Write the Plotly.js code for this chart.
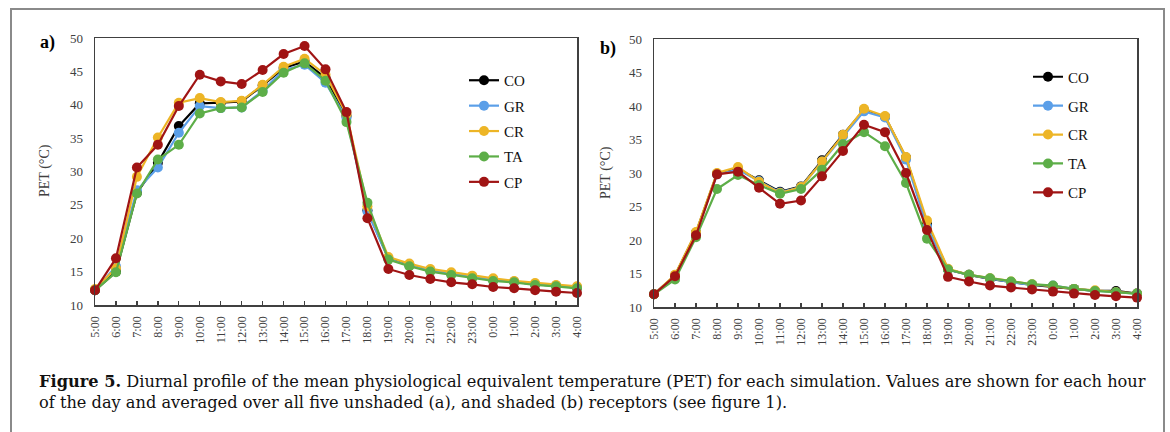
<!DOCTYPE html>
<html>
<head>
<meta charset="utf-8">
<script src="https://cdn.plot.ly/plotly-3.0.1.min.js"></script>
<style>
html,body{margin:0;padding:0;background:#fff;}
#chart{width:1170px;height:432px;}
</style>
</head>
<body>
<div id="chart"></div>
<script>
const hours = ['5:00','6:00','7:00','8:00','9:00','10:00','11:00','12:00','13:00','14:00','15:00','16:00','17:00','18:00','19:00','20:00','21:00','22:00','23:00','0:00','1:00','2:00','3:00','4:00'];
const seriesNames = ['CO','GR','CR','TA','CP'];
const seriesColors = ['#000000','#5B9FE8','#EDB526','#5DAE48','#A01414'];

// Panel a: unshaded receptors
const CO_a = [12.2, 15.0, 26.8, 31.3, 36.8, 40.2, 40.3, 40.5, 42.9, 45.5, 46.5, 44.0, 38.3, 24.2, 17.0, 16.0, 15.2, 14.7, 14.2, 13.8, 13.5, 13.1, 12.9, 12.6];
const GR_a = [12.2, 15.8, 27.2, 30.6, 35.8, 39.8, 39.5, 39.6, 42.1, 45.2, 46.0, 43.3, 38.0, 24.0, 16.9, 15.9, 15.2, 14.7, 14.2, 13.8, 13.5, 13.1, 12.9, 12.6];
const CR_a = [12.4, 15.5, 29.2, 35.1, 40.3, 41.0, 40.4, 40.6, 43.0, 45.7, 46.9, 44.5, 38.6, 24.8, 17.2, 16.2, 15.4, 14.9, 14.4, 14.0, 13.6, 13.3, 13.0, 12.8];
const TA_a = [12.2, 14.9, 26.7, 31.8, 34.0, 38.7, 39.5, 39.6, 41.9, 44.8, 46.2, 43.6, 37.4, 25.3, 16.8, 15.8, 15.0, 14.5, 14.0, 13.6, 13.4, 13.0, 12.8, 12.5];
const CP_a = [12.2, 17.0, 30.6, 34.0, 39.8, 44.5, 43.5, 43.1, 45.2, 47.6, 48.8, 45.3, 38.9, 23.0, 15.4, 14.5, 13.9, 13.4, 13.1, 12.7, 12.5, 12.2, 12.0, 11.8];

// Panel b: shaded receptors
const CO_b = [11.9, 14.7, 21.1, 29.9, 30.6, 28.9, 27.2, 28.0, 31.9, 35.7, 39.4, 38.4, 32.3, 22.4, 15.6, 14.8, 14.2, 13.7, 13.3, 13.0, 12.7, 12.4, 12.4, 12.0];
const GR_b = [11.9, 14.7, 21.0, 29.8, 30.5, 28.8, 27.1, 27.9, 31.7, 35.5, 39.2, 38.3, 32.0, 22.0, 15.6, 14.8, 14.2, 13.7, 13.3, 13.2, 12.7, 12.4, 12.2, 12.0];
const CR_b = [11.9, 14.8, 21.2, 30.0, 30.9, 28.7, 27.0, 27.9, 31.7, 35.7, 39.6, 38.5, 32.4, 22.9, 15.7, 14.8, 14.3, 13.8, 13.4, 13.1, 12.7, 12.5, 12.2, 12.0];
const TA_b = [11.9, 14.1, 20.4, 27.6, 29.7, 28.2, 26.9, 27.6, 30.5, 34.3, 36.1, 34.0, 28.5, 20.2, 15.6, 14.8, 14.3, 13.8, 13.4, 13.2, 12.7, 12.4, 12.2, 12.0];
const CP_b = [11.9, 14.6, 20.7, 29.8, 30.2, 27.8, 25.4, 25.9, 29.5, 33.3, 37.2, 36.1, 30.0, 21.5, 14.5, 13.8, 13.2, 12.9, 12.6, 12.3, 12.0, 11.8, 11.6, 11.4];

const yTickVals = [10,15,20,25,30,35,40,45,50];
const yTitle = 'PET (°C)';
const panelLabels = ['a)','b)'];
const captionLine1 = '<b>Figure 5.</b> Diurnal profile of the mean physiological equivalent temperature (PET) for each simulation. Values are shown for each hour';
const captionLine2 = 'of the day and averaged over all five unshaded (a), and shaded (b) receptors (see figure 1).';

const W = 1170, H = 432;
const px = v => v / W;
const py = v => 1 - v / H;
const SERIF = 'Liberation Serif';
const CAPFONT = 'DejaVu Serif';
const AXC = '#404040';

const dataA = [CO_a, GR_a, CR_a, TA_a, CP_a];
const dataB = [CO_b, GR_b, CR_b, TA_b, CP_b];

const traces = [];
function addPanel(arrs, xa, ya, leg) {
  arrs.forEach((vals, i) => {
    traces.push({
      x: hours, y: vals, xaxis: xa, yaxis: ya,
      type: 'scatter', mode: 'lines+markers',
      name: seriesNames[i], legend: leg, legendgroup: leg + seriesNames[i],
      line: {color: seriesColors[i], width: 2.2},
      marker: {color: seriesColors[i], size: 10},
      cliponaxis: false
    });
  });
}
addPanel(dataA, 'x', 'y', 'legend');
addPanel(dataB, 'x2', 'y2', 'legend2');

const xCommon = {
  type: 'category', range: [0, 23], showline: true, linecolor: AXC, linewidth: 1.5, mirror: true,
  ticks: 'inside', ticklen: 4, tickcolor: AXC, tickwidth: 1.3, tickangle: -90,
  showgrid: false, zeroline: false, fixedrange: true,
  tickfont: {family: SERIF, size: 12, color: AXC}, ticklabelstandoff: 5
};
const yCommon = {
  range: [10, 50], tickvals: yTickVals, showline: true, linecolor: AXC, linewidth: 1.5, mirror: true,
  ticks: '', showgrid: false, zeroline: false, fixedrange: true,
  tickfont: {family: SERIF, size: 13, color: AXC}, ticklabelstandoff: 8
};

const legCommon = {
  font: {family: SERIF, size: 15, color: '#111'}, bgcolor: 'rgba(0,0,0,0)',
  traceorder: 'grouped', itemwidth: 30, xanchor: 'left', yanchor: 'top'
};

const layout = {
  width: W, height: H,
  margin: {l: 0, r: 0, t: 0, b: 0},
  paper_bgcolor: '#fff', plot_bgcolor: '#fff',
  showlegend: true,
  xaxis: Object.assign({}, xCommon, {domain: [px(95), px(577)], anchor: 'y'}),
  yaxis: Object.assign({}, yCommon, {domain: [py(305), py(38)], anchor: 'x'}),
  xaxis2: Object.assign({}, xCommon, {domain: [px(654), px(1137)], anchor: 'y2'}),
  yaxis2: Object.assign({}, yCommon, {domain: [py(307), py(39)], anchor: 'x2'}),
  legend: Object.assign({}, legCommon, {x: px(464), y: py(64), tracegroupgap: 2.9}),
  legend2: Object.assign({}, legCommon, {x: px(1028), y: py(60.5), tracegroupgap: 6.4}),
  shapes: [
    {type: 'rect', xref: 'paper', yref: 'paper', x0: px(11), x1: px(1164), y0: -0.2, y1: py(9),
     line: {color: '#8a8a8a', width: 2}, fillcolor: 'rgba(0,0,0,0)', layer: 'below'}
  ],
  annotations: [
    {text: panelLabels[0], xref: 'paper', yref: 'paper', x: px(38), y: py(43), xanchor: 'left', yanchor: 'middle',
     showarrow: false, font: {family: SERIF, size: 18, color: '#000', weight: 'bold'}},
    {text: panelLabels[1], xref: 'paper', yref: 'paper', x: px(598), y: py(48), xanchor: 'left', yanchor: 'middle',
     showarrow: false, font: {family: SERIF, size: 18, color: '#000', weight: 'bold'}},
    {text: yTitle, xref: 'paper', yref: 'paper', x: px(45), y: py(171), textangle: -90, xanchor: 'center', yanchor: 'middle',
     showarrow: false, font: {family: SERIF, size: 14, color: AXC}},
    {text: yTitle, xref: 'paper', yref: 'paper', x: px(606), y: py(173), textangle: -90, xanchor: 'center', yanchor: 'middle',
     showarrow: false, font: {family: SERIF, size: 14, color: AXC}},
    {text: captionLine1, xref: 'paper', yref: 'paper', x: px(37), y: py(381), xanchor: 'left', yanchor: 'middle',
     showarrow: false, font: {family: CAPFONT, size: 16.2, color: '#111'}},
    {text: captionLine2, xref: 'paper', yref: 'paper', x: px(37), y: py(402), xanchor: 'left', yanchor: 'middle',
     showarrow: false, font: {family: CAPFONT, size: 16.2, color: '#111'}}
  ]
};

Plotly.newPlot('chart', traces, layout, {displayModeBar: false, staticPlot: true});
</script>
</body>
</html>
